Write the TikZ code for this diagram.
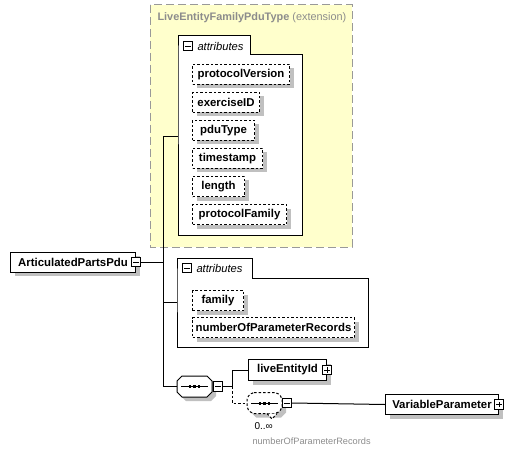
\documentclass[tikz,border=0pt]{standalone}
\usepackage{fontspec}
\setmainfont{Liberation Sans}
\usetikzlibrary{positioning, shadows}

\definecolor{extfill}{HTML}{FFFFCC}
\definecolor{extline}{HTML}{999999}
\definecolor{shadowgray}{HTML}{C0C0C0}
\definecolor{labelgray}{HTML}{8C8C8C}

\newcommand{\boxfont}{\fontsize{11.4}{13}\selectfont\bfseries}
\newcommand{\octpath}{(-12.5,-10.5) -- (12.5,-10.5) -- (17.5,-5.5) -- (17.5,5.5) -- (12.5,10.5) -- (-12.5,10.5) -- (-17.5,5.5) -- (-17.5,-5.5) -- cycle}

\tikzset{
  boxshadow/.style={drop shadow={shadow xshift=4pt, shadow yshift=-4pt, fill=shadowgray, opacity=1}},
  element/.style={draw, fill=white, anchor=north west, inner sep=0pt, minimum height=20pt, font=\boxfont, boxshadow},
  attrib/.style={element, dash pattern=on 2.5pt off 2pt},
  togglebox/.style={draw, fill=white, solid, minimum size=9.5pt, inner sep=0pt, line width=0.8pt},
  collapsebox/.style={togglebox, path picture={
      \draw ([xshift=2pt]path picture bounding box.west) -- ([xshift=-2pt]path picture bounding box.east);}},
  expandbox/.style={togglebox, path picture={
      \draw ([xshift=2pt]path picture bounding box.west) -- ([xshift=-2pt]path picture bounding box.east);
      \draw ([yshift=-2pt]path picture bounding box.north) -- ([yshift=2pt]path picture bounding box.south);}},
  pics/compositor/.style={code={
      \fill[shadowgray, shift={(4,4)}] \octpath;
      \draw[fill=white, #1] \octpath;
      \draw (-13.5,0) -- (13.5,0);
      \foreach \dx in {-4.5,0,4.5}
        \fill (\dx-1.2,-1.5) rectangle ++(2.4,3);
      \coordinate (-west) at (-17.5,0);
      \coordinate (-south) at (0,10.5);
  }},
  pics/compositor/.default=solid,
}

\begin{document}
\begin{tikzpicture}[x=1pt, y=-1pt, line width=1pt]

% Manually size the picture
\useasboundingbox (0, 0) rectangle (526, 454);

% Extension base type
\draw[extline, dash pattern=on 8pt off 4pt, fill=extfill] (150, 5) rectangle (352, 247);
\node[anchor=west, inner sep=0pt, text=labelgray, font=\fontsize{10.9}{13}\selectfont] (extTitle) at (157, 18)
  {\textbf{LiveEntityFamilyPduType} (extension)};

% Inherited attributes
\draw[fill=white] (178, 55) |- (250, 36) |- (302, 55) |- (178, 235) -- cycle;
\node[collapsebox] (baseAttrToggle) at (188, 46) {};
\node[anchor=west, inner sep=0pt, font=\fontsize{11.2}{13}\selectfont\itshape] (baseAttrLabel) at (197, 46) {attributes};
\node[attrib, minimum width=97pt] (protocolVersion) at (192, 64) {protocolVersion};
\node[attrib, minimum width=67pt] (exerciseID) at (192, 92) {exerciseID};
\node[attrib, minimum width=62pt] (pduType) at (192, 120) {pduType};
\node[attrib, minimum width=70pt] (timestamp) at (192, 148) {timestamp};
\node[attrib, minimum width=52pt] (length) at (192, 176) {length};
\node[attrib, minimum width=94pt] (protocolFamily) at (192, 204) {protocolFamily};

% Own attributes
\draw[fill=white] (177, 278) |- (252, 258) |- (368, 278) |- (177, 347) -- cycle;
\node[collapsebox] (ownAttrToggle) at (187, 268) {};
\node[anchor=west, inner sep=0pt, font=\fontsize{11.2}{13}\selectfont\itshape] (ownAttrLabel) at (196, 268) {attributes};
\node[attrib, minimum width=51pt] (family) at (192, 290) {family};
\node[attrib, minimum width=162pt] (numberOfParameterRecords) at (192, 317) {numberOfParameterRecords};

% Root element
\node[element, minimum width=125pt] (root) at (10, 251.5) {ArticulatedPartsPdu};
\node[collapsebox] (rootToggle) at (root.east) {};

% Content spine
\coordinate (spineTop) at (163, 137);
\coordinate (baseAttrIn) at (178, 137);
\coordinate (ownAttrIn) at (177, 302);
\draw (rootToggle.east) -- (rootToggle.east -| spineTop);
\draw (spineTop) -- (baseAttrIn);
\draw (ownAttrIn -| spineTop) -- (ownAttrIn);

% Sequence
\pic (sequence) at (194.5, 386.5) {compositor};
\node[collapsebox] (sequenceToggle) at (218, 386.5) {};
\draw (spineTop) |- (sequence-west);

% Children of the sequence
\node[element, minimum width=78pt, minimum height=21pt] (liveEntityId) at (248, 359) {liveEntityId\hspace{6pt}};
\node[expandbox] (liveEntityIdToggle) at (liveEntityId.east) {};

\pic (recordSeq) at (264.5, 403) {compositor={dash pattern=on 2.5pt off 2pt, rounded corners=2pt}};
\draw[dash pattern=on 2.5pt off 2pt, fill=white] ([xshift=2.5pt]recordSeq-south) -- ([xshift=7.5pt, yshift=-5.5pt]recordSeq-south) -- ([xshift=12.5pt]recordSeq-south);
\node[collapsebox] (recordSeqToggle) at (287, 403) {};

\coordinate (fork) at (232, 386.5);
\draw (sequenceToggle.east) -- (fork);
\draw (fork) |- (liveEntityId.west);
\draw[dash pattern=on 2.5pt off 2pt] (fork) |- (recordSeq-west);

% Repeated element
\node[element, minimum width=113pt] (variableParameter) at (385, 394) {VariableParameter\hspace{4pt}};
\node[expandbox] (variableParameterToggle) at (variableParameter.east) {};
\draw (recordSeqToggle.east) -- (variableParameter.west);

% Occurrence labels
\node[anchor=west, inner sep=0pt, font=\fontsize{10}{12}\selectfont] (occurs) at (254, 426) {0..∞};
\node[anchor=west, inner sep=0pt, text=labelgray, font=\fontsize{9.2}{11}\selectfont] (occursName) at (252, 441)
  {numberOfParameterRecords};

\end{tikzpicture}
\end{document}
